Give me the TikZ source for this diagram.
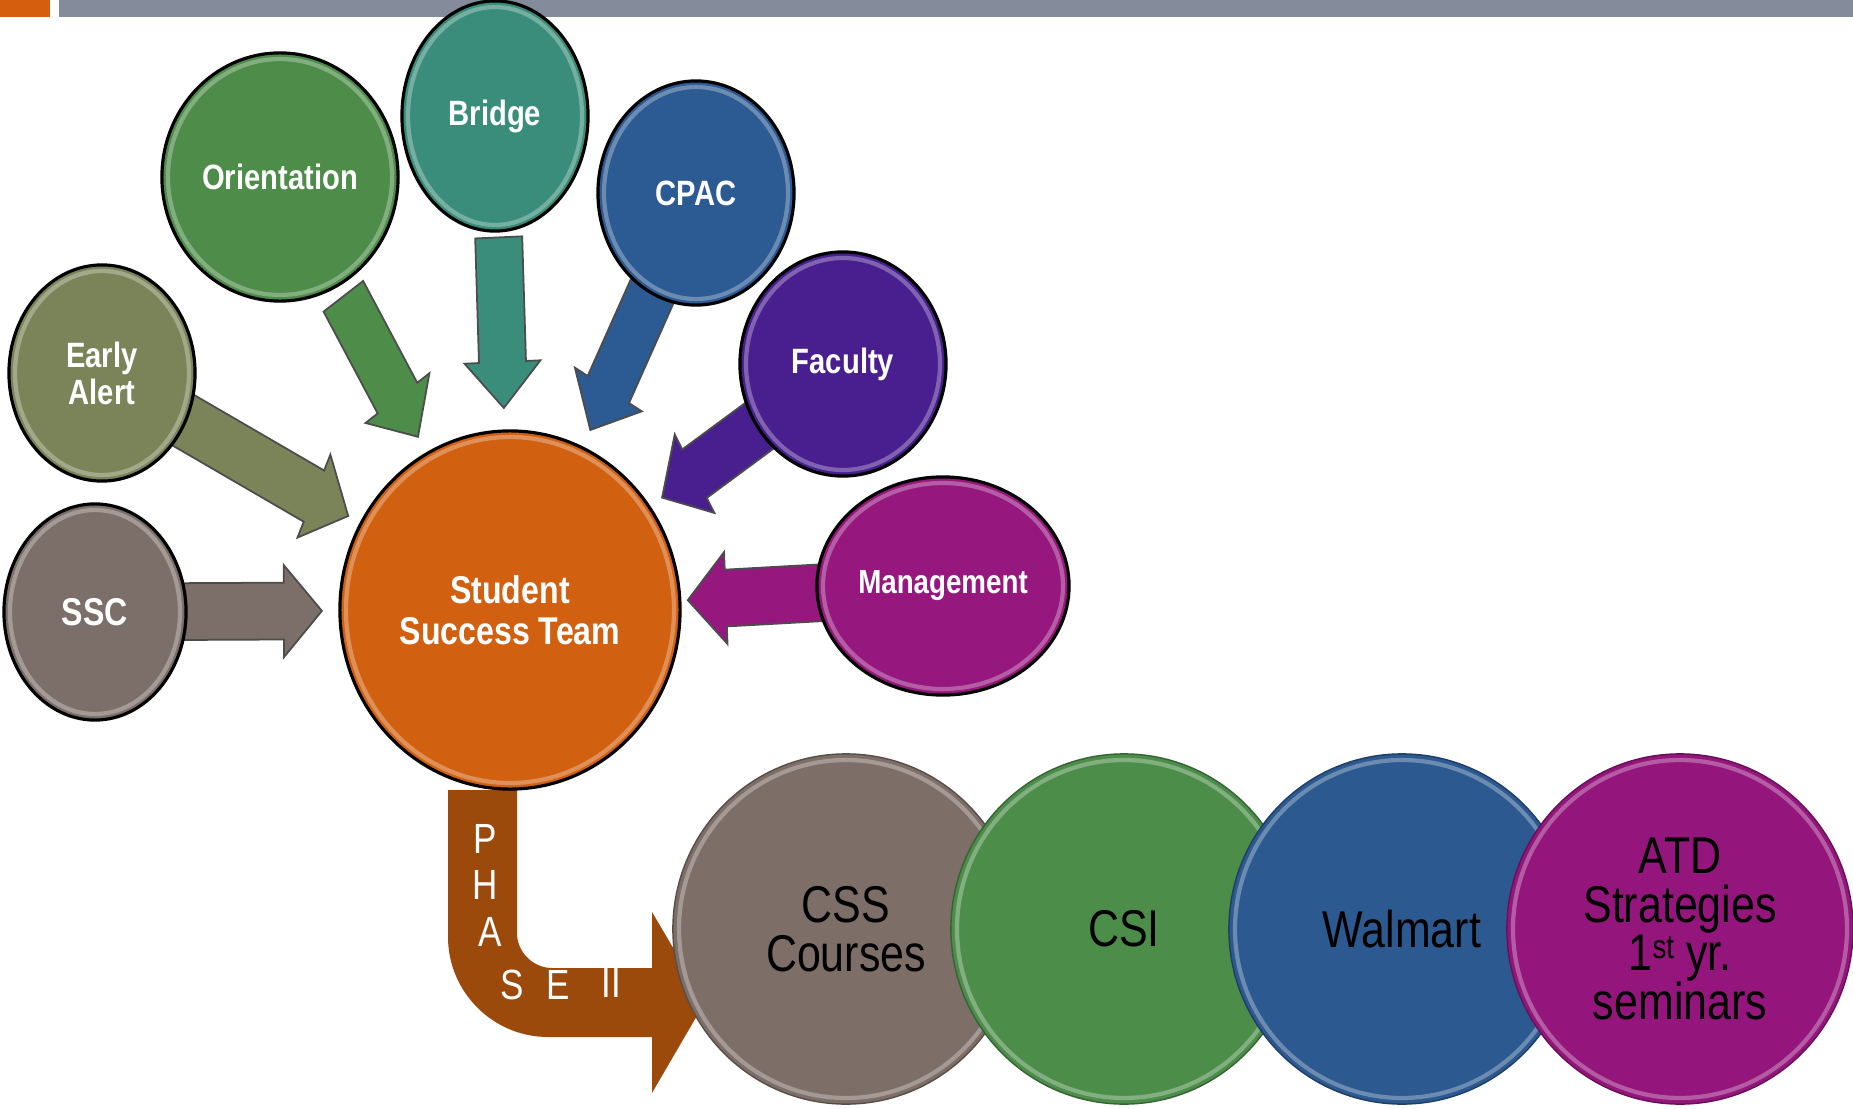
\documentclass[tikz,border=0pt]{standalone}
\usepackage{fontspec}
\setmainfont{Liberation Sans}[FakeStretch=0.83]
\usetikzlibrary{shapes.geometric,calc,backgrounds}
\setlength{\lineskiplimit}{-20pt}
\newcommand{\ordsup}[1]{\raisebox{3.6pt}{\fontsize{9.5}{9.5}\selectfont #1}}

\definecolor{barcol}{RGB}{132,140,155}
\definecolor{barorange}{RGB}{212,94,14}
\definecolor{earlycol}{RGB}{122,132,88}
\definecolor{ssccol}{RGB}{124,110,104}
\definecolor{orientcol}{RGB}{77,140,73}
\definecolor{bridgecol}{RGB}{58,141,122}
\definecolor{cpaccol}{RGB}{44,90,146}
\definecolor{facultycol}{RGB}{73,31,143}
\definecolor{mgmtcol}{RGB}{150,23,125}
\definecolor{sstcol}{RGB}{209,96,16}
\definecolor{phasecol}{RGB}{156,74,12}
\definecolor{csscol}{RGB}{125,110,104}
\definecolor{csicol}{RGB}{76,141,74}
\definecolor{walcol}{RGB}{43,89,144}
\definecolor{atdcol}{RGB}{148,22,124}

\begin{document}
\begin{tikzpicture}[x=0.01cm, y=-0.01cm,
	bubble/.style={ellipse, draw=black, line width=0.9pt, inner sep=0pt, outer sep=0pt, text=white, align=center},
	disc/.style={ellipse, fill=#1, draw=#1!70!black, line width=0.4pt, inner sep=0pt, outer sep=0pt, minimum width=3.46cm, minimum height=3.5cm, align=center, font=\fontsize{14.7}{13.8}\selectfont},
	rim/.style={draw=white, opacity=0.3, line width=1.2pt},
	blockarrow/.style={draw=black!70, line width=0.5pt, fill=#1},
	phaseletter/.style={text=white, inner sep=0pt, font=\fontsize{12}{12}\selectfont}]

	\useasboundingbox (0,0) rectangle (1853,1109);

	% feeder circles
	\foreach \nm/\cx/\cy/\rx/\ry/\col/\fs/\txt in {
		early/102/373/93/108/earlycol/10/{Early\\Alert},
		ssc/95/612/91/108/ssccol/11/SSC,
		orient/280/177/118/124/orientcol/10/Orientation,
		bridge/495/116/93/115/bridgecol/10/Bridge,
		cpac/696/193/98/112/cpaccol/10/CPAC,
		faculty/843/364/103/112/facultycol/10/Faculty,
		mgmt/943/586/126/109/mgmtcol/9.5/Management}{
		\node[bubble, fill=\col, minimum width=\rx*0.02cm, minimum height=\ry*0.02cm, font=\bfseries\fontsize{\fs}{10.5}\selectfont] (\nm) at (\cx,\cy) {\txt};
		\draw[rim] (\nm.center) ellipse [x radius=\rx-6, y radius=\ry-6];
	}

	\node[bubble, fill=sstcol, minimum width=3.4cm, minimum height=3.58cm, font=\bfseries\fontsize{11}{11.8}\selectfont] (sst) at (510,610) {Student\\Success Team};
	\draw[rim] (sst.center) ellipse [x radius=164, y radius=173];

	% phase two row
	\foreach \nm/\cx/\col/\txt in {
		css/846/csscol/{CSS\\Courses},
		csi/1124/csicol/CSI,
		wal/1402/walcol/Walmart,
		atd/1680/atdcol/{ATD\\Strategies\\1\ordsup{st} yr.\\seminars}}{
		\node[disc=\col] (\nm) at (\cx,929) {\txt};
		\draw[rim] (\nm.center) ellipse [x radius=167, y radius=169];
	}

	\foreach \ch/\cx/\cy in {P/485/839, H/485/885, A/490/932, S/512/985, E/558/985, II/611/983}
		\node[phaseletter] (ph\ch) at (\cx,\cy) {\ch};

	\begin{scope}[on background layer]
		\fill[barorange] (0,0) rectangle (50,17);
		\fill[barcol] (59,0) rectangle (1853,17);

		% block arrows into the team
		\foreach \src/\dist/\tail in {ssc/1.88cm/2.27, early/1.87cm/2.73, orient/1.96cm/1.38, bridge/2.02cm/1.41, cpac/1.97cm/2.24, faculty/1.89cm/2.09, mgmt/1.78cm/2.55}{
			\pgfmathsetmacro\taily{1.21*\tail}
			\draw[blockarrow=\src col] let \p1=($(\src)-(sst)$), \n1={atan2(\y1/1.21,\x1)} in
				($(sst)!\dist!(\src)$) coordinate (tip)
				-- ($(tip)+(\n1:.38cm and .46cm)+(\n1+90:.38cm and .46cm)$)
				-- ($(tip)+(\n1:.38cm and .46cm)+(\n1+90:.235cm and .284cm)$)
				-- ($(tip)+(\n1:\tail cm and \taily cm)+(\n1+90:.235cm and .284cm)$)
				-- ($(tip)+(\n1:\tail cm and \taily cm)+(\n1-90:.235cm and .284cm)$)
				-- ($(tip)+(\n1:.38cm and .46cm)+(\n1-90:.235cm and .284cm)$)
				-- ($(tip)+(\n1:.38cm and .46cm)+(\n1-90:.38cm and .46cm)$)
				-- cycle;
		}

		% bent arrow down to the second phase
		\fill[phasecol] (448,790) -- (448,937) .. controls (448,992) and (493,1037) .. (548,1037)
			-- (652,1037) -- (652,1093) -- (705,1002) -- (652,912) -- (652,968) -- (552,968)
			.. controls (533,968) and (517,952) .. (517,933) -- (517,790) -- cycle;
	\end{scope}
\end{tikzpicture}
\end{document}
